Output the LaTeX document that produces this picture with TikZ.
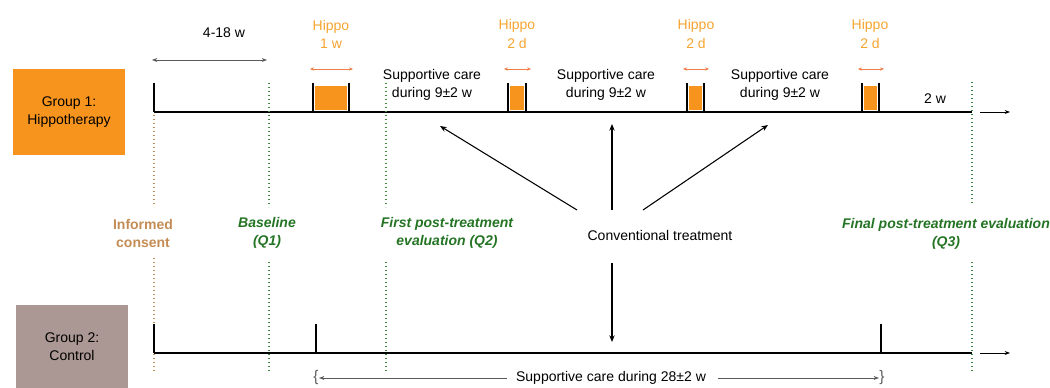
\documentclass[tikz,border=0pt]{standalone}
\usepackage{fontspec}
\setmainfont{Liberation Sans}
\usetikzlibrary{arrows.meta}

\definecolor{grpone}{RGB}{247,148,29}
\definecolor{grptwo}{RGB}{171,151,147}
\definecolor{hippotext}{RGB}{246,164,48}
\definecolor{hippoarrow}{RGB}{238,125,70}
\definecolor{evalgreen}{RGB}{36,116,36}
\definecolor{dotgreen}{RGB}{62,140,62}
\definecolor{consentbrown}{RGB}{196,140,85}
\definecolor{guidegrey}{RGB}{90,90,90}

\tikzset{every picture/.style={line width=0.75pt}}
\tikzset{
  txt/.style={inner sep=0.75pt, align=center, font=\fontsize{10.5}{13.5}\selectfont},
  evaltxt/.style={txt, text=evalgreen, font=\fontsize{10.5}{13.5}\selectfont\bfseries\itshape},
  hippotxt/.style={txt, text=hippotext},
  bracetxt/.style={txt, inner sep=0pt, text=guidegrey, font=\fontsize{11.5}{11.5}\selectfont},
  grpbox/.style={txt, inner sep=0pt, minimum width=84pt, minimum height=64.5pt},
  timeline/.style={line width=1.2pt},
  bar/.style={line width=1.1pt},
  dotline/.style={line width=1pt, dash pattern=on 1pt off 2pt},
  hipparrow/.style={hippoarrow, line width=0.6pt, {Stealth[length=3pt,width=2.5pt]}-{Stealth[length=3pt,width=2.5pt]}},
  guidearrow/.style={guidegrey, line width=0.6pt, -{Stealth[length=4pt,width=3pt]}},
  treatarrow/.style={line width=0.8pt, -{Stealth[length=5pt,width=4pt]}}
}

\begin{document}
\begin{tikzpicture}[x=0.75pt,y=0.75pt,yscale=-1,xscale=1]
\path[use as bounding box] (0,0) rectangle (1050,388);

%Shape: Rectangle [group boxes]
\node (grp1) [grpbox, fill=grpone] at (69,112) {Group 1:\\Hippotherapy};
\node (grp2) [grpbox, fill=grptwo, minimum height=62.25pt] at (72,346.5) {Group 2:\\Control};

%Straight Lines [timelines]
\coordinate (t1s) at (154,112);
\coordinate (t1e) at (972,112);
\coordinate (t2s) at (154,353);
\coordinate (t2e) at (972,353);
\draw [timeline] (t1s) -- (t1e) ;
\draw [timeline] (t2s) -- (t2e) ;
\coordinate (o1a) at (980,112);
\coordinate (o1b) at (1010,112);
\coordinate (o2a) at (980,353);
\coordinate (o2b) at (1010,353);
\draw [guidearrow, black] (o1a) -- (o1b) ;
\draw [guidearrow, black] (o2a) -- (o2b) ;

%Straight Lines [dotted markers]
\draw [dotline, consentbrown] (154,83) -- (154,207) (154,258) -- (154,372) ;
\draw [dotline, dotgreen] (269,83) -- (269,207) (269,262) -- (269,372) ;
\draw [dotline, dotgreen] (386,83) -- (386,207) (386,262) -- (386,372) ;
\draw [dotline, dotgreen] (972,82) -- (972,205) (972,262) -- (972,372) ;

%Straight Lines [ticks]
\draw [bar] (154,83) -- (t1s) ;
\draw [bar] (154,324) -- (t2s) ;
\draw [bar] (316,324) -- (316,353) ;
\draw [bar] (881,324) -- (881,353) ;

%Shape: Rectangle [hippo blocks]
\fill [grpone] (315,86) rectangle (347,110) ;
\draw [bar] (313,83) -- (313,112) (349,83) -- (349,112) ;
\fill [grpone] (510,86) rectangle (524,110) ;
\draw [bar] (508,83) -- (508,112) (526,83) -- (526,112) ;
\fill [grpone] (689,86) rectangle (702,110) ;
\draw [bar] (687,83) -- (687,112) (704,83) -- (704,112) ;
\fill [grpone] (864,86) rectangle (877,110) ;
\draw [bar] (862,83) -- (862,112) (879,83) -- (879,112) ;

%Straight Lines [hippo spans]
\coordinate (h1l) at (310,69);
\coordinate (h1r) at (353,69);
\coordinate (h2l) at (504,69);
\coordinate (h2r) at (531,69);
\coordinate (h3l) at (683,69);
\coordinate (h3r) at (709,69);
\coordinate (h4l) at (858,69);
\coordinate (h4r) at (884,69);
\draw [hipparrow] (h1l) -- (h1r) ;
\draw [hipparrow] (h2l) -- (h2r) ;
\draw [hipparrow] (h3l) -- (h3r) ;
\draw [hipparrow] (h4l) -- (h4r) ;

%Straight Lines [screening span]
\coordinate (d1) at (152,60);
\coordinate (d2) at (267,60);
\draw [guidearrow, {Stealth[length=4pt,width=3pt]}-{Stealth[length=4pt,width=3pt]}] (d1) -- (d2) ;

% Text Node
\node (dur) [txt] at (224,33) {4-18 w};
% Text Node
\node (hp1) [hippotxt] at (331,34) {Hippo\\1 w};
\node (hp2) [hippotxt] at (517,34) {Hippo\\2 d};
\node (hp3) [hippotxt] at (696,34) {Hippo\\2 d};
\node (hp4) [hippotxt] at (870,34) {Hippo\\2 d};
% Text Node
\node (sup1) [txt] at (432,85) {Supportive care\\during 9±2 w};
\node (sup2) [txt] at (606,85) {Supportive care\\during 9±2 w};
\node (sup3) [txt] at (780,85) {Supportive care\\during 9±2 w};
\node (rest) [txt] at (935,99) {2 w};

% Text Node
\node (consent) [txt, text=consentbrown, font=\fontsize{10.5}{13.5}\selectfont\bfseries] at (143,233) {Informed\\consent};
\node (base) [evaltxt] at (267,233) {Baseline\\(Q1)};
\node (post1) [evaltxt] at (447,233) {First post-treatment\\evaluation (Q2)};
\node (post3) [evaltxt] at (946,234) {Final post-treatment evaluation\\(Q3)};

% Text Node
\node (conv) [txt] at (660,235) {Conventional treatment};
\coordinate (cvl) at (577,210);
\coordinate (cvm) at (612,210);
\coordinate (cvr) at (643,210);
\coordinate (cvd) at (612,263);
\coordinate (tgl) at (440,126);
\coordinate (tgm) at (612,124);
\coordinate (tgr) at (768,125);
\coordinate (tgd) at (612,342);
\draw [treatarrow] (cvl) -- (tgl) ;
\draw [treatarrow] (cvm) -- (tgm) ;
\draw [treatarrow] (cvr) -- (tgr) ;
\draw [treatarrow] (cvd) -- (tgd) ;

% Text Node
\node (lbr) [bracetxt] at (316,378) {\{};
\node (rbr) [bracetxt] at (882,378) {\}};
\node (supall) [txt] at (611,378) {Supportive care during 28±2 w};
\draw [guidearrow, shorten <=6pt] (supall.west) -- (lbr.east |- supall.west) ;
\draw [guidearrow, shorten <=8pt] (supall.east) -- (rbr.west |- supall.east) ;

\end{tikzpicture}
\end{document}
